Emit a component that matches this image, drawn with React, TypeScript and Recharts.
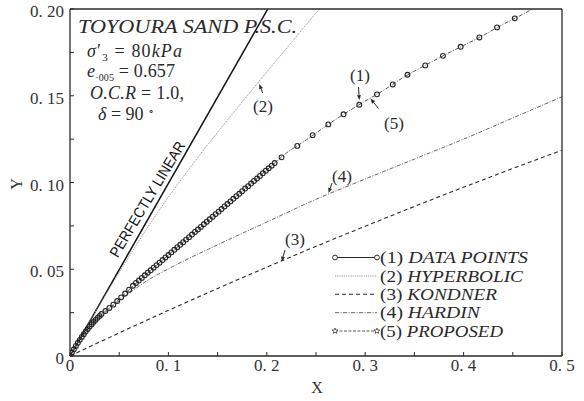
import React from 'react';
import { ComposedChart, Line, Scatter, XAxis, YAxis, Customized } from 'recharts';

// ---- axis ticks ----
const xTicks = [0, 0.05, 0.1, 0.15, 0.2, 0.25, 0.3, 0.35, 0.4, 0.45, 0.5];
const xTickLabels = ['0', '', '0. 1', '', '0. 2', '', '0. 3', '', '0. 4', '', '0. 5'];
const yTicks = [0, 0.025, 0.05, 0.075, 0.1, 0.125, 0.15, 0.175, 0.2];
const yTickLabels = ['0', '', '0. 05', '', '0. 10', '', '0. 15', '', '0. 20'];

// ---- (1) data points ----
const dataX = [
  0, 0.002, 0.004, 0.006, 0.008, 0.01, 0.012, 0.014, 0.016, 0.018, 0.02, 0.022, 0.024, 0.026, 0.028, 0.03, 0.032,
  0.036, 0.04, 0.044, 0.048, 0.052, 0.056, 0.06, 0.064,
  0.067, 0.07, 0.073, 0.076, 0.079, 0.082, 0.085, 0.088, 0.091, 0.094, 0.097, 0.1, 0.103, 0.106, 0.109, 0.112,
  0.115, 0.118, 0.121, 0.124, 0.127, 0.13, 0.133, 0.136, 0.139, 0.142, 0.145, 0.148, 0.151, 0.154, 0.157, 0.16,
  0.163, 0.166, 0.169, 0.172, 0.175, 0.178, 0.181, 0.184, 0.187, 0.19, 0.193, 0.196, 0.199, 0.202, 0.205, 0.208,
  0.215, 0.231, 0.2466, 0.2625, 0.278, 0.294, 0.312, 0.328, 0.343, 0.361, 0.379, 0.397, 0.416, 0.434, 0.452,
];
const dataY = [
  0, 0.002, 0.0039, 0.0058, 0.0076, 0.0093, 0.011, 0.0126, 0.0141, 0.0156, 0.017, 0.0183, 0.0196, 0.0208, 0.022, 0.0231, 0.0242,
  0.0259, 0.0277, 0.0296, 0.0317, 0.0338, 0.036, 0.0382, 0.0405,
  0.0421, 0.0435, 0.045, 0.0465, 0.048, 0.0494, 0.0509, 0.0524, 0.0538, 0.0553, 0.0568, 0.0582, 0.0597, 0.0612, 0.0627, 0.0641,
  0.0656, 0.0671, 0.0685, 0.07, 0.0715, 0.0729, 0.0744, 0.0759, 0.0774, 0.0788, 0.0803, 0.0818, 0.0832, 0.0847, 0.0862, 0.0876,
  0.0891, 0.0906, 0.0921, 0.0935, 0.095, 0.0965, 0.0979, 0.0994, 0.1009, 0.1023, 0.1038, 0.1053, 0.1068, 0.1082, 0.1097, 0.1112,
  0.1145, 0.1211, 0.1273, 0.1335, 0.1393, 0.1448, 0.1508, 0.1565, 0.1621, 0.1675, 0.173, 0.1782, 0.1836, 0.1894, 0.1946,
];

// ---- perfectly linear ----
const linearX = [0, 0.201];
const linearY = [0, 0.2];

// ---- (2) hyperbolic ----
const hyperX = [0, 0.02, 0.05, 0.09, 0.13, 0.17, 0.21, 0.2535];
const hyperY = [0, 0.0199, 0.0482, 0.0835, 0.1145, 0.143, 0.1705, 0.2];

// ---- (3) Kondner ----
const kondnerX = [0, 0.05, 0.1, 0.15, 0.2, 0.25, 0.3, 0.35, 0.4, 0.45, 0.5];
const kondnerY = [0, 0.0133, 0.0263, 0.0389, 0.0512, 0.0632, 0.0748, 0.0862, 0.0973, 0.1081, 0.1186];

// ---- (4) Hardin ----
const hardinX = [0, 0.01, 0.02, 0.03, 0.04, 0.05, 0.06, 0.07, 0.08, 0.1, 0.12, 0.14, 0.16, 0.18, 0.2, 0.25, 0.3, 0.35, 0.4, 0.45, 0.5];
const hardinY = [0, 0.0092, 0.0165, 0.0222, 0.0272, 0.0318, 0.0362, 0.0403, 0.044, 0.0502, 0.056, 0.0614, 0.0668, 0.072, 0.0772, 0.0903, 0.102, 0.1135, 0.125, 0.1372, 0.1494];

// ---- (5) proposed ----
const propX = [0, 0.01, 0.02, 0.03, 0.04, 0.05, 0.06, 0.08, 0.1, 0.12, 0.14, 0.16, 0.18, 0.2, 0.22, 0.24, 0.26, 0.28, 0.3, 0.32, 0.34, 0.36, 0.38, 0.4, 0.42, 0.44, 0.46, 0.47];
const propY = [0, 0.0093, 0.017, 0.0231, 0.0277, 0.0327, 0.0382, 0.0484, 0.0582, 0.068, 0.0778, 0.0876, 0.0974, 0.1072, 0.117, 0.1245, 0.1325, 0.14, 0.1469, 0.1536, 0.161, 0.1672, 0.1733, 0.179, 0.1848, 0.1911, 0.1969, 0.2];

const rows = (xs: number[], ys: number[]) => xs.map((x, i) => ({ x, y: ys[i] }));

const SERIF = "'Liberation Serif', 'Times New Roman', serif";
const SANS = "'Liberation Sans', Arial, sans-serif";
const INK = '#2a2a2a';

const XTick = (props: any) => {
  const { x, y, index } = props;
  const label = xTickLabels[index];
  if (!label) return null;
  return (
    <text x={x} y={y + 13} textAnchor="middle" fontFamily={SERIF} fontSize={17} fill="#333">
      {label}
    </text>
  );
};

const YTick = (props: any) => {
  const { x, y, index } = props;
  const label = yTickLabels[index];
  if (!label) return null;
  return (
    <text x={x} y={y + 8} textAnchor="end" fontFamily={SERIF} fontSize={17} fill="#333">
      {label}
    </text>
  );
};

const Arrow = ({ x1, y1, x2, y2 }: { x1: number; y1: number; x2: number; y2: number }) => {
  const a = Math.atan2(y2 - y1, x2 - x1);
  const L = 5;
  const W = 2;
  const bx = x2 - L * Math.cos(a);
  const by = y2 - L * Math.sin(a);
  const p1 = `${bx + W * Math.sin(a)},${by - W * Math.cos(a)}`;
  const p2 = `${bx - W * Math.sin(a)},${by + W * Math.cos(a)}`;
  return (
    <g>
      <line x1={x1} y1={y1} x2={bx} y2={by} stroke={INK} strokeWidth={1} />
      <polygon points={`${x2},${y2} ${p1} ${p2}`} fill={INK} />
    </g>
  );
};

const Star = ({ cx, cy }: { cx: number; cy: number }) => {
  const pts: string[] = [];
  for (let i = 0; i < 10; i++) {
    const r = i % 2 === 0 ? 3 : 1.3;
    const a = -Math.PI / 2 + (i * Math.PI) / 5;
    pts.push(`${cx + r * Math.cos(a)},${cy + r * Math.sin(a)}`);
  }
  return <polygon points={pts.join(' ')} fill="white" stroke={INK} strokeWidth={0.7} />;
};

const legendRows = [
  { num: '(1) ', name: 'DATA POINTS', len: 148 },
  { num: '(2) ', name: 'HYPERBOLIC', len: 143 },
  { num: '(3) ', name: 'KONDNER', len: 117 },
  { num: '(4) ', name: 'HARDIN', len: 100 },
  { num: '(5) ', name: 'PROPOSED', len: 123 },
];
const legendY = [257.5, 276, 294.3, 312.7, 331];

const Annotations = () => {
  const lx1 = 335;
  const lx2 = 377;
  return (
    <g>
      {/* title block */}
      <text x={78} y={33} fontFamily={SERIF} fontStyle="italic" fontSize={19} fill={INK} textLength={219} lengthAdjust="spacingAndGlyphs">
        TOYOURA SAND P.S.C.
      </text>
      <text x={87} y={57} fontFamily={SERIF} fontSize={18} fill={INK} textLength={95} lengthAdjust="spacing">
        <tspan fontStyle="italic">σ</tspan>
        <tspan>′</tspan>
        <tspan fontSize={11} dy={4}>3</tspan>
        <tspan dy={-4}> = 80</tspan>
        <tspan fontStyle="italic">kPa</tspan>
      </text>
      <text x={87} y={77} fontFamily={SERIF} fontSize={18} fill={INK} textLength={88} lengthAdjust="spacing">
        <tspan fontStyle="italic">e</tspan>
        <tspan fontSize={10} dy={4}>·005</tspan>
        <tspan dy={-4}> = 0.657</tspan>
      </text>
      <text x={90} y={99} fontFamily={SERIF} fontSize={18} fill={INK} textLength={94} lengthAdjust="spacing">
        <tspan fontStyle="italic">O.C.R</tspan>
        <tspan> = 1.0,</tspan>
      </text>
      <text x={98} y={120} fontFamily={SERIF} fontSize={18} fill={INK}>
        <tspan fontStyle="italic">δ</tspan>
        <tspan> = 90 </tspan>
        <tspan fontSize={10} dy={-6}>∘</tspan>
      </text>

      {/* perfectly linear label */}
      <text
        x={0}
        y={0}
        transform="translate(147,199) rotate(-59)"
        textAnchor="middle"
        dominantBaseline="central"
        fontFamily={SANS}
        fontSize={15}
        fill="#111"
        textLength={132}
        lengthAdjust="spacingAndGlyphs"
      >
        PERFECTLY LINEAR
      </text>

      {/* curve labels */}
      <text x={360} y={81} textAnchor="middle" fontFamily={SERIF} fontSize={17} fill={INK}>(1)</text>
      <Arrow x1={358.5} y1={87} x2={359.3} y2={100} />
      <text x={263} y={112} textAnchor="middle" fontFamily={SERIF} fontSize={17} fill={INK}>(2)</text>
      <Arrow x1={262.7} y1={93} x2={259.3} y2={84} />
      <text x={295} y={245} textAnchor="middle" fontFamily={SERIF} fontSize={17} fill={INK}>(3)</text>
      <Arrow x1={285} y1={250} x2={281.7} y2={261.5} />
      <text x={342} y={182} textAnchor="middle" fontFamily={SERIF} fontSize={17} fill={INK}>(4)</text>
      <Arrow x1={332} y1={183} x2={328.5} y2={193} />
      <text x={394} y={129} textAnchor="middle" fontFamily={SERIF} fontSize={17} fill={INK}>(5)</text>
      <Arrow x1={378.5} y1={108.5} x2={370.5} y2={98.5} />

      {/* legend */}
      <line x1={lx1} y1={legendY[0]} x2={lx2} y2={legendY[0]} stroke={INK} strokeWidth={1} />
      <circle cx={lx1} cy={legendY[0]} r={2.4} fill="white" stroke={INK} strokeWidth={1} />
      <circle cx={lx2} cy={legendY[0]} r={2.4} fill="white" stroke={INK} strokeWidth={1} />
      <line x1={lx1} y1={legendY[1]} x2={lx2} y2={legendY[1]} stroke="#888" strokeWidth={0.9} strokeDasharray="1.2 1" />
      <line x1={lx1} y1={legendY[2]} x2={lx2} y2={legendY[2]} stroke={INK} strokeWidth={1.1} strokeDasharray="4 3" />
      <line x1={lx1} y1={legendY[3]} x2={lx2} y2={legendY[3]} stroke="#555" strokeWidth={0.9} strokeDasharray="4 1.5 1 1.5" />
      <line x1={lx1} y1={legendY[4]} x2={lx2} y2={legendY[4]} stroke="#444" strokeWidth={0.9} strokeDasharray="3 1.5" />
      <Star cx={lx1} cy={legendY[4]} />
      <Star cx={lx2} cy={legendY[4]} />
      {legendRows.map((r, i) => (
        <text key={i} x={380} y={legendY[i] + 5.5} fontFamily={SERIF} fontSize={17} fill={INK} textLength={r.len} lengthAdjust="spacingAndGlyphs">
          <tspan>{r.num}</tspan>
          <tspan fontStyle="italic">{r.name}</tspan>
        </text>
      ))}

      {/* axis titles */}
      <text x={317} y={393} textAnchor="middle" fontFamily={SERIF} fontSize={16} fill="#333">X</text>
      <text x={0} y={0} transform="translate(22,184) rotate(-90)" textAnchor="middle" fontFamily={SERIF} fontSize={16} fill="#333">Y</text>
    </g>
  );
};

const DataDot = (props: any) => {
  const { cx, cy } = props;
  if (cx == null || cy == null) return null;
  return <circle cx={cx} cy={cy} r={2.4} fill="none" stroke="#222" strokeWidth={1.1} />;
};

export default function App() {
  return (
    <div style={{ position: 'absolute', left: 0, top: 0, width: 584, height: 401, background: '#fff' }}>
      <ComposedChart width={584} height={401} margin={{ top: 0, right: 0, bottom: 0, left: 0 }}>
        <XAxis
          xAxisId={0}
          dataKey="x"
          type="number"
          domain={[0, 0.5]}
          ticks={xTicks}
          allowDataOverflow
          orientation="bottom"
          height={45}
          tickSize={-4}
          tickMargin={6}
          tick={<XTick />}
          axisLine={{ stroke: INK, strokeWidth: 1.3 }}
          tickLine={{ stroke: INK, strokeWidth: 1 }}
          interval={0}
        />
        <XAxis
          xAxisId="top"
          dataKey="x"
          type="number"
          domain={[0, 0.5]}
          ticks={xTicks}
          allowDataOverflow
          orientation="top"
          height={9}
          tickSize={-4}
          tick={false}
          axisLine={{ stroke: INK, strokeWidth: 1.3 }}
          tickLine={{ stroke: INK, strokeWidth: 1 }}
          interval={0}
        />
        <YAxis
          yAxisId={0}
          dataKey="y"
          type="number"
          domain={[0, 0.2]}
          ticks={yTicks}
          allowDataOverflow
          orientation="left"
          width={70}
          tickSize={-4}
          tickMargin={10}
          tick={<YTick />}
          axisLine={{ stroke: INK, strokeWidth: 1.3 }}
          tickLine={{ stroke: INK, strokeWidth: 1 }}
          interval={0}
        />
        <YAxis
          yAxisId="right"
          dataKey="y"
          type="number"
          domain={[0, 0.2]}
          ticks={yTicks}
          allowDataOverflow
          orientation="right"
          width={22}
          tickSize={-4}
          tick={false}
          axisLine={{ stroke: INK, strokeWidth: 1.3 }}
          tickLine={{ stroke: INK, strokeWidth: 1 }}
          interval={0}
        />
        <Line data={rows(linearX, linearY)} dataKey="y" type="linear" stroke="#111" strokeWidth={1.5} dot={false} isAnimationActive={false} />
        <Line data={rows(hyperX, hyperY)} dataKey="y" type="monotone" stroke="#888" strokeWidth={0.9} strokeDasharray="1.2 1" dot={false} isAnimationActive={false} />
        <Line data={rows(kondnerX, kondnerY)} dataKey="y" type="monotone" stroke={INK} strokeWidth={1.1} strokeDasharray="4 3" dot={false} isAnimationActive={false} />
        <Line data={rows(hardinX, hardinY)} dataKey="y" type="monotone" stroke="#555" strokeWidth={0.9} strokeDasharray="4 1.5 1 1.5" dot={false} isAnimationActive={false} />
        <Line data={rows(propX, propY)} dataKey="y" type="monotone" stroke="#444" strokeWidth={0.9} strokeDasharray="4 1.5 1 1.5" dot={false} isAnimationActive={false} />
        <Scatter data={rows(dataX, dataY)} dataKey="y" shape={<DataDot />} isAnimationActive={false} />
        <Customized component={Annotations} />
      </ComposedChart>
    </div>
  );
}
